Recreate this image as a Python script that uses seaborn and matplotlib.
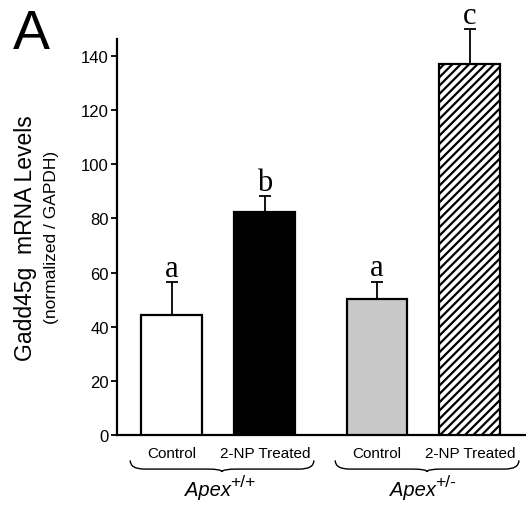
import numpy as np
import pandas as pd
import matplotlib
matplotlib.use("Agg")
import matplotlib.pyplot as plt
from matplotlib.path import Path
from matplotlib.patches import PathPatch
import matplotlib.transforms as mtransforms
import seaborn as sns

### data
genotype = ["Apex+/+", "Apex+/+", "Apex+/-", "Apex+/-"]
treatment = ["Control", "2-NP Treated", "Control", "2-NP Treated"]
mrna_mean = [44.3, 82.2, 50.1, 137.2]
mrna_err = [12.2, 6.1, 6.5, 12.8]
sig_letters = ["a", "b", "a", "c"]
group_names = ["Apex", "Apex"]
group_sup = ["+/+", "+/-"]
yticks = [0, 20, 40, 60, 80, 100, 120, 140]

bar_colors = ["white", "black", "#c8c8c8", "white"]
bar_hatch = ["", "", "", "////"]

df = pd.DataFrame({"genotype": genotype, "treatment": treatment, "mean": mrna_mean})

sns.set_style("ticks")
plt.rcParams["font.family"] = ["Liberation Sans", "DejaVu Sans"]
plt.rcParams["hatch.linewidth"] = 1.6
plt.rcParams["text.color"] = "black"
plt.rcParams["xtick.color"] = "black"
plt.rcParams["ytick.color"] = "black"

fig = plt.figure(figsize=(5.26, 5.06), dpi=100)
ax = fig.add_axes([0.2224, 0.1383, 0.7776, 0.7827])

sns.barplot(data=df, x="genotype", y="mean", hue="treatment",
            order=["Apex+/+", "Apex+/-"], hue_order=["Control", "2-NP Treated"],
            width=0.907, gap=0.344, errorbar=None, legend=False,
            edgecolor="black", linewidth=1.6, ax=ax)

# sort bars left to right and style them
bars = sorted(ax.patches, key=lambda p: p.get_x())
centers = []
for p, c, h in zip(bars, bar_colors, bar_hatch):
    p.set_facecolor(c)
    p.set_edgecolor("black")
    p.set_hatch(h)
    p.set_zorder(3)
    centers.append(p.get_x() + p.get_width() / 2)
centers = np.array(centers)

# one-sided error bars
eb = ax.errorbar(centers, mrna_mean, yerr=[np.zeros(4), mrna_err], fmt="none",
                 ecolor="black", elinewidth=1.3, capsize=4.5, capthick=1.3, zorder=2)
for art in eb.lines[1] + eb.lines[2]:
    art.set_clip_on(False)

for cx, m, e, lt in zip(centers, mrna_mean, mrna_err, sig_letters):
    ax.annotate(lt, (cx, m + e), xytext=(0, -0.5), textcoords="offset points",
                ha="center", va="bottom", fontsize=22, family="Liberation Serif",
                annotation_clip=False)

ax.set_xlim(-0.495, 1.5)
ax.set_ylim(0, 146.3)
ax.set_yticks(yticks)
ax.set_xticks(centers)
ax.set_xticklabels(treatment, fontsize=11)
ax.tick_params(axis="x", length=0, pad=8, colors="black")
ax.tick_params(axis="y", length=4, width=1.3, labelsize=12, pad=2, colors="black")
ax.set_xlabel("")
ax.set_ylabel("")
sns.despine(ax=ax)
for s in ["left", "bottom"]:
    ax.spines[s].set_linewidth(1.6)
    ax.spines[s].set_color("black")

# curly braces under each genotype group
trans = mtransforms.blended_transform_factory(ax.transData, ax.transAxes)
y0, y1, y2 = -0.064, -0.086, -0.093
d = 0.07
for g in range(2):
    x0 = bars[2 * g].get_x() - 0.055
    x1 = bars[2 * g + 1].get_x() + bars[2 * g + 1].get_width() + 0.09
    xc = (x0 + x1) / 2
    verts = [(x0, y0), (x0, y1), (x0 + d, y1), (xc - d, y1),
             (xc, y1), (xc, y2), (xc, y1), (xc + d, y1), (x1 - d, y1),
             (x1, y1), (x1, y0)]
    codes = [Path.MOVETO, Path.CURVE3, Path.CURVE3, Path.LINETO,
             Path.CURVE3, Path.CURVE3, Path.CURVE3, Path.CURVE3, Path.LINETO,
             Path.CURVE3, Path.CURVE3]
    ax.add_patch(PathPatch(Path(verts, codes), transform=trans, fill=False,
                           edgecolor="black", linewidth=1.0, clip_on=False))
    t = ax.text(xc - 0.07, -0.137, group_names[g], transform=trans, ha="center",
                va="center", fontsize=14.5, style="italic")
    ax.annotate(group_sup[g], xy=(1.0, 0.5), xycoords=t, xytext=(-0.5, 0),
                textcoords="offset points", ha="left", va="bottom", fontsize=12.5)

# two-line y label
fig.text(0.049, 0.53, "Gadd45g  mRNA Levels", rotation=90, ha="center",
         va="center", fontsize=16.5)
fig.text(0.098, 0.53, "(normalized / GAPDH)", rotation=90, ha="center",
         va="center", fontsize=12.5)

fig.text(0.024, 0.903, "A", fontsize=40, ha="left", va="baseline")

fig.savefig("out.png", dpi=100)
